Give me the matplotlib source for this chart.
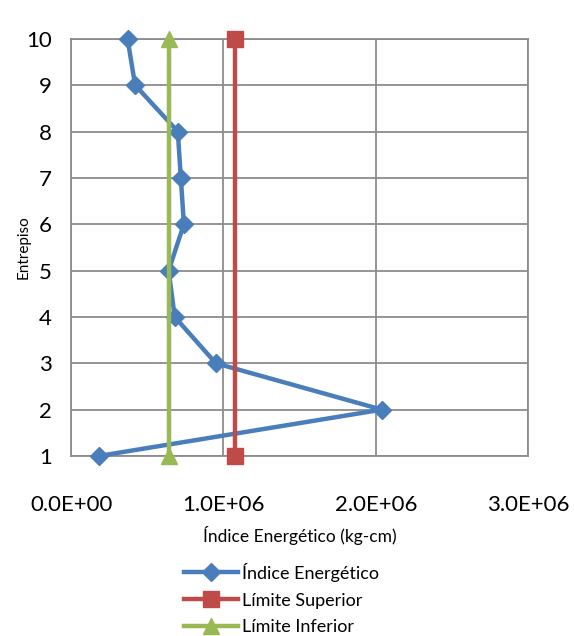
import matplotlib
matplotlib.use("Agg")
import matplotlib.pyplot as plt
from matplotlib.ticker import FuncFormatter

plt.rcParams['font.family'] = ['Lato', 'DejaVu Sans']

# data
floors = [1, 2, 3, 4, 5, 6, 7, 8, 9, 10]
indice = [0.18e6, 2.04e6, 0.95e6, 0.68e6, 0.64e6, 0.74e6, 0.72e6, 0.70e6, 0.42e6, 0.37e6]
lim_floors = [1, 10]
lim_sup = [1.075e6, 1.075e6]
lim_inf = [0.645e6, 0.645e6]
x_ticks = [0, 1e6, 2e6, 3e6]

c_blue = '#4a7ebb'
c_red = '#be4b48'
c_green = '#98b954'
grid_c = '#8c8c8c'

fig = plt.figure(figsize=(5.74, 6.36), dpi=100)
ax = fig.add_axes([0.124, 0.283, 0.796, 0.656])

ax.plot(indice, floors, color=c_blue, lw=3.2, marker='D', ms=9, label='Índice Energético',
        zorder=3, clip_on=False)
ax.plot(lim_sup, lim_floors, color=c_red, lw=3.2, marker='s', ms=12, label='Límite Superior',
        zorder=4, clip_on=False)
ax.plot(lim_inf, lim_floors, color=c_green, lw=3.2, marker='^', ms=12, label='Límite Inferior',
        zorder=4, clip_on=False)

ax.set_xlim(0, 3e6)
ax.set_ylim(1, 10)
ax.set_xticks(x_ticks)
ax.set_yticks(floors)
ax.xaxis.set_major_formatter(FuncFormatter(lambda v, p: f"{v:.1E}"))
ax.grid(True, color=grid_c, lw=1.3)
ax.set_axisbelow(True)
for s in ax.spines.values():
    s.set_color(grid_c)
    s.set_linewidth(1.3)
ax.tick_params(axis='both', length=0, labelsize=16)
ax.tick_params(axis='x', pad=28)
ax.tick_params(axis='y', pad=14)

ax.set_xlabel('Índice Energético (kg-cm)', fontsize=12.5, labelpad=8)
ax.set_ylabel('Entrepiso', fontsize=11, labelpad=-3)

fig.legend(loc='center', bbox_to_anchor=(0.49, 0.058), frameon=False, fontsize=13,
           handlelength=3.0, labelspacing=0.6, handletextpad=0.2)

fig.savefig('out.png', dpi=100)
